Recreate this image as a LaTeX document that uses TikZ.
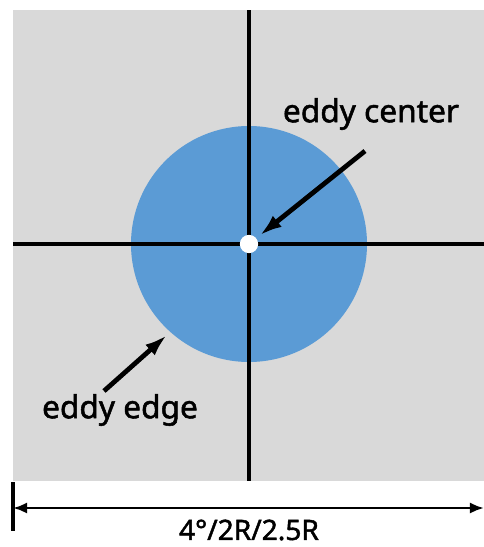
\documentclass[tikz,border=0pt]{standalone}
\usepackage{fontspec}
\setmainfont{Noto Sans}[FakeBold=1.6, AutoFakeBold=1.6]
\usetikzlibrary{arrows.meta}
\definecolor{fondgris}{HTML}{D9D9D9}
\definecolor{bleutourb}{HTML}{5B9BD5}
\tikzset{
  axe/.style = {line width=2.6pt},
  fleche/.style = {line width=3.4pt, -{Latex[length=16pt,width=10pt]}},
  etiquette/.style = {font=\fontsize{22.5}{26}\selectfont\bfseries}
}
\begin{document}
\begin{tikzpicture}[x=0.025cm, y=-0.025cm]
  \useasboundingbox (0,0) rectangle (484,547);

  % Le fond
  \fill[fondgris] (13,10) rectangle (484,481);

  % Le tourbillon
  \coordinate (centre) at (249,244);
  \fill[bleutourb] (centre) circle (118);

  % Les axes
  \draw[axe] (249,10) -- (249,481);
  \draw[axe] (13,244) -- (484,244);
  \node[circle, fill=white, inner sep=0pt, minimum size=13pt] (point) at (centre) {};

  % Les lettres
  \node[etiquette] (lcentre) at (371,114) {eddy center};
  \node[etiquette] (lbord) at (120,410) {eddy edge};
  \node[etiquette, font=\fontsize{20}{24}\selectfont\bfseries] (ltaille) at (249,530) {4°/2R/2.5R};

  % Les fleches
  \coordinate (dcentre) at (365,151);
  \coordinate (dbord) at (104,391);
  \coordinate (bord) at (167,335);
  \draw[fleche, shorten >=3pt] (dcentre) -- (point);
  \draw[fleche] (dbord) -- (bord);

  % La taille
  \coordinate (gauche) at (13,508);
  \coordinate (droite) at (484,508);
  \draw[line width=2.6pt] (13,482) -- (13,531);
  \draw[line width=2pt, {Latex[length=10pt,width=8pt]}-{Latex[length=10pt,width=8pt]}] (gauche) -- (droite);
\end{tikzpicture}
\end{document}
